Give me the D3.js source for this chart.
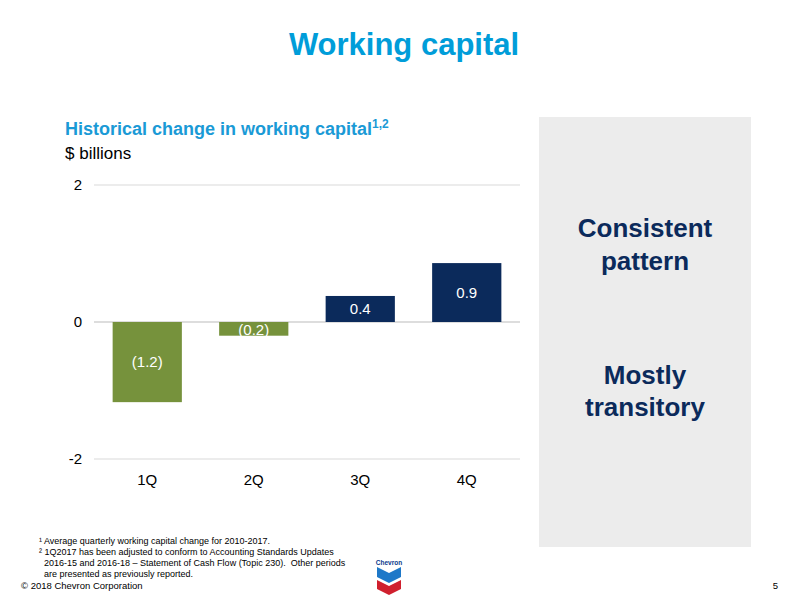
<!DOCTYPE html>
<html><head><meta charset="utf-8">
<script src="https://cdn.jsdelivr.net/npm/d3@7"></script>
<style>body{margin:0;background:#fff;font-family:"Liberation Sans",Arial,sans-serif}</style>
</head><body><svg id="c" width="800" height="600"></svg>
<script>
const categories = ["1Q","2Q","3Q","4Q"];
const values = [-1.17, -0.2, 0.38, 0.86];
const labels = ["(1.2)","(0.2)","0.4","0.9"];
const yTicks = [-2, 0, 2];

const svg = d3.select("#c");
const x = d3.scaleBand().domain(categories).range([94, 520]).paddingInner(0.35).paddingOuter(0.175);
const y = d3.scaleLinear().domain([-2, 2]).range([459, 185]);
const col = v => v < 0 ? "#76923c" : "#0b2a5b";

svg.append("text").attr("x",404).attr("y",55).attr("text-anchor","middle")
  .attr("font-size",31).attr("font-weight","bold").attr("fill","#009dd9").text("Working capital");

const st = svg.append("text").attr("x",65).attr("y",135).attr("font-size",18).attr("font-weight","bold").attr("fill","#1a9ad6");
st.append("tspan").text("Historical change in working capital");
st.append("tspan").attr("font-size",12).attr("dy",-7).text("1,2");
svg.append("text").attr("x",65).attr("y",159).attr("font-size",17).attr("fill","#000").text("$ billions");

svg.append("g").selectAll("line").data(yTicks).join("line")
  .attr("x1",94).attr("x2",520).attr("y1",d=>y(d)).attr("y2",d=>y(d))
  .attr("stroke",d=>d===0?"#bbb":"#d9d9d9").attr("stroke-width",1);
svg.append("g").selectAll("text").data(yTicks).join("text")
  .attr("x",82).attr("y",d=>y(d)+5).attr("text-anchor","end").attr("font-size",15).text(d=>d);

svg.append("g").selectAll("rect").data(values).join("rect")
  .attr("x",(d,i)=>x(categories[i])).attr("width",x.bandwidth())
  .attr("y",d=>y(Math.max(0,d))).attr("height",d=>Math.abs(y(d)-y(0)))
  .attr("fill",col);
svg.append("g").selectAll("text").data(values).join("text")
  .attr("x",(d,i)=>x(categories[i])+x.bandwidth()/2)
  .attr("y",(d,i)=> i===1 ? y(0)+13 : (y(d)+y(0))/2+5)
  .attr("text-anchor","middle").attr("font-size",15).attr("fill","#fff")
  .text((d,i)=>labels[i]);
svg.append("g").selectAll("text").data(categories).join("text")
  .attr("x",d=>x(d)+x.bandwidth()/2).attr("y",485).attr("text-anchor","middle").attr("font-size",15).text(d=>d);

svg.append("rect").attr("x",539).attr("y",117).attr("width",212).attr("height",430).attr("fill","#ececec");
[["Consistent",237],["pattern",270],["Mostly",384],["transitory",416]].forEach(([t,yy])=>
  svg.append("text").attr("x",645).attr("y",yy).attr("text-anchor","middle").attr("font-size",26)
    .attr("font-weight","bold").attr("fill","#0b2a5b").text(t));

const fn = [["¹ Average quarterly working capital change for 2010-2017.",544],
 ["² 1Q2017 has been adjusted to conform to Accounting Standards Updates",555],
 ["  2016-15 and 2016-18 – Statement of Cash Flow (Topic 230).  Other periods",566],
 ["  are presented as previously reported.",577]];
fn.forEach(([t,yy])=>svg.append("text").attr("x",39).attr("y",yy).attr("font-size",9).style("white-space","pre").text(t));
svg.append("text").attr("x",21).attr("y",589).attr("font-size",9.5).text("© 2018 Chevron Corporation");
svg.append("text").attr("x",778).attr("y",589).attr("font-size",9.5).attr("text-anchor","end").text("5");

svg.append("text").attr("x",389).attr("y",565).attr("text-anchor","middle").attr("font-size",6.5).attr("font-weight","bold").attr("fill","#0b3a8c").text("Chevron");
svg.append("path").attr("d","M377,567 L389,573 L401,567 L401,577 L389,583 L377,577Z").attr("fill","#1e78c8");
svg.append("path").attr("d","M377,580 L389,586 L401,580 L401,589 L389,595 L377,589Z").attr("fill","#d0202e");
</script></body></html>
